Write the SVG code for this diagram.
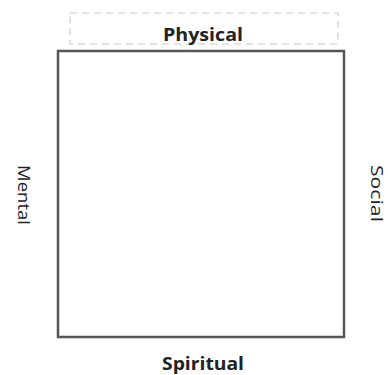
<svg xmlns="http://www.w3.org/2000/svg" width="388" height="375" viewBox="0 0 388 375">
<style>
.lbl{font-family:"Open Sans","Liberation Sans",sans-serif;fill:#222}
.b{font-weight:bold;font-size:18px}
.v{font-size:15.5px}
</style>
<rect width="388" height="375" fill="#fff"/>
<g id="physical">
<rect x="70" y="13" width="268" height="31" fill="none" stroke="#c8c8c8" stroke-width="1" stroke-dasharray="7,5"/>
<text class="lbl b" x="163" y="41" textLength="80" lengthAdjust="spacingAndGlyphs">Physical</text>
</g>
<g id="square">
<rect x="58" y="51" width="286" height="286" fill="#fff" stroke="#555" stroke-width="2.5"/>
</g>
<g id="mental">
<text class="lbl v" transform="translate(18,165) rotate(90)" x="0" y="0" textLength="60" lengthAdjust="spacingAndGlyphs">Mental</text>
</g>
<g id="social">
<text class="lbl v" transform="translate(371,165) rotate(90)" x="0" y="0" textLength="57" lengthAdjust="spacingAndGlyphs">Social</text>
</g>
<g id="spiritual">
<text class="lbl b" x="162" y="370" textLength="82" lengthAdjust="spacingAndGlyphs">Spiritual</text>
</g>
<g id="connectors"></g>
</svg>
